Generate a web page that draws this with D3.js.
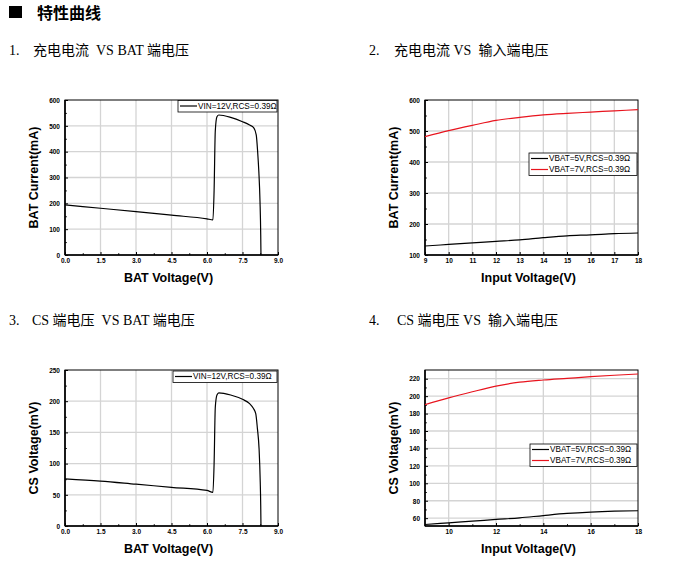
<!DOCTYPE html>
<html><head><meta charset="utf-8">
<script src="https://cdn.jsdelivr.net/npm/d3@7"></script>
<style>
body{margin:0;background:#fff;}
svg{display:block;}
</style></head>
<body>
<svg id="c" width="688" height="569"></svg>
<script>
// ---- Data ----
const c1Volt = [0, 1.5, 3.0, 4.5, 6.0, 6.25, 6.3, 6.35, 6.42, 6.5, 7.0, 7.5, 7.8, 7.97, 8.08, 8.14, 8.19, 8.24, 8.27, 8.28];
const c1Curr = [194, 181, 168, 154, 140, 136, 250, 480, 535, 542, 533, 516, 503, 493, 465, 400, 323, 207, 78, 0];

const c2Vin = [9, 10, 11, 12, 13, 14, 15, 16, 17, 18];
const c2Bat5 = [129, 134, 139, 144, 149, 156, 162, 165, 169, 171];
const c2Bat7 = [482, 501, 518, 534, 544, 552, 557, 561, 565, 569];

const c3Volt = [0, 1.5, 3.0, 4.5, 6.0, 6.25, 6.3, 6.35, 6.42, 6.5, 7.0, 7.5, 7.8, 7.95, 8.06, 8.13, 8.2, 8.25, 8.27, 8.28];
const c3Cs = [75.6, 72, 67, 62, 57, 54, 100, 190, 210, 213.5, 210, 203, 196, 189, 180, 156, 124, 70, 33, 0];

const c4Vin = [9, 10, 11, 12, 13, 14, 15, 16, 17, 18];
const c4Bat5 = [52.7, 54.6, 56.5, 58.5, 60.4, 63, 65.4, 67, 68, 68.5];
const c4Bat7 = [190.3, 198, 205, 211.5, 216, 218.5, 220.4, 222.3, 224, 225.4];

const xTicksBat = [0, 1.5, 3.0, 4.5, 6.0, 7.5, 9.0];
const xTicksVin1 = [9, 10, 11, 12, 13, 14, 15, 16, 17, 18];
const xTicksVin2 = [10, 12, 14, 16, 18];
const yTicksCurr1 = [0, 100, 200, 300, 400, 500, 600];
const yTicksCurr2 = [100, 200, 300, 400, 500, 600];
const yTicksCs1 = [0, 50, 100, 150, 200, 250];
const yTicksCs2 = [60, 80, 100, 120, 140, 160, 180, 200, 220];

const legend1 = ["VIN=12V,RCS=0.39Ω"];
const legend2 = ["VBAT=5V,RCS=0.39Ω", "VBAT=7V,RCS=0.39Ω"];

const heading = "特性曲线";
const titles = ["充电电流  VS BAT 端电压", "充电电流 VS  输入端电压", "CS 端电压  VS BAT 端电压", "CS 端电压 VS  输入端电压"];

// ---- Drawing ----
const svg = d3.select("#c");
const serif = "'Liberation Serif','Times New Roman','Noto Sans CJK SC',serif";
const sans = "'Liberation Sans',Arial,sans-serif";

svg.append("rect").attr("x", 9).attr("y", 6).attr("width", 13).attr("height", 12).attr("fill", "#000");
svg.append("text").attr("x", 37).attr("y", 19).attr("font-family", "'Noto Sans CJK SC',sans-serif")
  .attr("font-weight", "bold").attr("font-size", 16).text(heading);

const titlePos = [[9, 55, 33], [369, 55, 394], [9, 325, 32], [369, 325, 397]];
titlePos.forEach((p, i) => {
  svg.append("text").attr("x", p[0]).attr("y", p[1]).attr("font-family", serif).attr("font-size", 14).text((i + 1) + ".");
  svg.append("text").attr("x", p[2]).attr("y", p[1]).attr("font-family", serif).attr("font-size", 14)
    .attr("xml:space", "preserve").style("white-space", "pre").text(titles[i]);
});

function panel(o) {
  const g = svg.append("g");
  const x = d3.scaleLinear().domain(o.xd).range([o.l, o.r]);
  const y = d3.scaleLinear().domain(o.yd).range([o.b, o.t]);
  // grid
  g.selectAll(".gx").data(o.xt.filter(v => v > o.xd[0] && v < o.xd[1])).join("line")
    .attr("x1", d => x(d)).attr("x2", d => x(d)).attr("y1", o.t).attr("y2", o.b)
    .attr("stroke", "#d4d4d4").attr("stroke-width", 1.3);
  g.selectAll(".gy").data(o.yt.filter(v => v > o.yd[0] && v < o.yd[1])).join("line")
    .attr("y1", d => y(d)).attr("y2", d => y(d)).attr("x1", o.l).attr("x2", o.r)
    .attr("stroke", "#d4d4d4").attr("stroke-width", 1.3);
  // axes with inward ticks
  const ax = d3.axisBottom(x).tickValues(o.xt).tickSize(-3).tickFormat(o.xf);
  const ay = d3.axisLeft(y).tickValues(o.yt).tickSize(-3).tickFormat(d3.format("d"));
  const gx = g.append("g").attr("transform", `translate(0,${o.b})`).call(ax);
  const gy = g.append("g").attr("transform", `translate(${o.l},0)`).call(ay);
  [gx, gy].forEach(a => {
    a.select(".domain").remove();
    a.selectAll("line").attr("stroke", "#000").attr("stroke-width", 1);
    a.selectAll("text").attr("font-family", sans).attr("font-size", 6.5).attr("font-weight", "bold").attr("fill", "#000");
  });
  gx.selectAll("text").attr("y", 3.5).attr("dy", "0.71em");
  gy.selectAll("text").attr("x", -5).attr("dy", "0.35em");
  // minor ticks
  if (o.xm) {
    const xa = d3.axisBottom(x).tickValues(o.xm).tickSize(-1.8).tickFormat("");
    const m = g.append("g").attr("transform", `translate(0,${o.b})`).call(xa);
    m.select(".domain").remove(); m.selectAll("line").attr("stroke", "#000");
  }
  if (o.ym) {
    const ya = d3.axisLeft(y).tickValues(o.ym).tickSize(-1.8).tickFormat("");
    const m = g.append("g").attr("transform", `translate(${o.l},0)`).call(ya);
    m.select(".domain").remove(); m.selectAll("line").attr("stroke", "#000");
  }
  // frame
  g.append("rect").attr("x", o.l).attr("y", o.t).attr("width", o.r - o.l).attr("height", o.b - o.t)
    .attr("fill", "none").attr("stroke", "#000").attr("stroke-width", 1);
  g.append("line").attr("x1", o.l).attr("x2", o.r).attr("y1", o.b).attr("y2", o.b).attr("stroke", "#000").attr("stroke-width", 1.6);
  g.append("line").attr("x1", o.l).attr("x2", o.l).attr("y1", o.t).attr("y2", o.b).attr("stroke", "#000").attr("stroke-width", 1.6);
  // series
  const clip = "clip" + o.id;
  g.append("clipPath").attr("id", clip).append("rect").attr("x", o.l).attr("y", o.t).attr("width", o.r - o.l).attr("height", o.b - o.t);
  o.series.forEach(s => {
    const line = d3.line().x((d, i) => x(s.xs[i])).y(d => y(d)).curve(d3.curveMonotoneX);
    g.append("path").attr("d", line(s.ys)).attr("fill", "none").attr("stroke", s.color)
      .attr("stroke-width", 1.2).attr("clip-path", `url(#${clip})`);
  });
  // legend
  const lg = g.append("g");
  lg.append("rect").attr("x", o.lx).attr("y", o.ly).attr("width", o.lw).attr("height", o.series.length * 11 + 0.5)
    .attr("fill", "#fff").attr("stroke", "#000").attr("stroke-width", 0.8);
  o.series.forEach((s, i) => {
    const yy = o.ly + 5.5 + i * 11;
    lg.append("line").attr("x1", o.lx + 2).attr("x2", o.lx + 19).attr("y1", yy).attr("y2", yy).attr("stroke", s.color).attr("stroke-width", 1.2);
    lg.append("text").attr("x", o.lx + 20).attr("y", yy).attr("dy", "0.35em").attr("font-family", sans)
      .attr("font-size", 8.2).attr("fill", "#000").text(s.name);
  });
  // axis titles
  g.append("text").attr("x", (o.l + o.r) / 2 - 3).attr("y", o.b + 27).attr("text-anchor", "middle")
    .attr("font-family", sans).attr("font-weight", "bold").attr("font-size", 12.5).text(o.xl);
  g.append("text").attr("transform", `translate(${o.l - 27},${(o.t + o.b) / 2 + 0}) rotate(-90)`)
    .attr("text-anchor", "middle").attr("font-family", sans).attr("font-weight", "bold").attr("font-size", 12.5).text(o.yl);
}

const minorBat = [0.75, 2.25, 3.75, 5.25, 6.75, 8.25];

panel({id: 1, l: 65, r: 278, t: 100, b: 255, xd: [0, 9], yd: [0, 600], xt: xTicksBat, yt: yTicksCurr1,
  xm: minorBat, ym: [50, 150, 250, 350, 450, 550], xf: d3.format(".1f"),
  xl: "BAT Voltage(V)", yl: "BAT Current(mA)", lx: 178, ly: 100.5, lw: 99,
  series: [{xs: c1Volt, ys: c1Curr, color: "#000", name: legend1[0]}]});

panel({id: 2, l: 425, r: 638, t: 100, b: 255, xd: [9, 18], yd: [100, 600], xt: xTicksVin1, yt: yTicksCurr2,
  ym: [150, 250, 350, 450, 550], xf: d3.format("d"),
  xl: "Input Voltage(V)", yl: "BAT Current(mA)", lx: 529, ly: 153, lw: 108,
  series: [{xs: c2Vin, ys: c2Bat5, color: "#000", name: legend2[0]}, {xs: c2Vin, ys: c2Bat7, color: "#e8141e", name: legend2[1]}]});

panel({id: 3, l: 65, r: 278, t: 370, b: 526, xd: [0, 9], yd: [0, 250], xt: xTicksBat, yt: yTicksCs1,
  xm: minorBat, ym: [25, 75, 125, 175, 225], xf: d3.format(".1f"),
  xl: "BAT Voltage(V)", yl: "CS Voltage(mV)", lx: 173, ly: 371, lw: 104,
  series: [{xs: c3Volt, ys: c3Cs, color: "#000", name: legend1[0]}]});

panel({id: 4, l: 425, r: 638, t: 370, b: 526, xd: [9, 18], yd: [51, 230], xt: xTicksVin2, yt: yTicksCs2,
  xm: [9, 11, 13, 15, 17], ym: [70, 90, 110, 130, 150, 170, 190, 210], xf: d3.format("d"),
  xl: "Input Voltage(V)", yl: "CS Voltage(mV)", lx: 530, ly: 444, lw: 107,
  series: [{xs: c4Vin, ys: c4Bat5, color: "#000", name: legend2[0]}, {xs: c4Vin, ys: c4Bat7, color: "#e8141e", name: legend2[1]}]});
</script>
</body></html>
